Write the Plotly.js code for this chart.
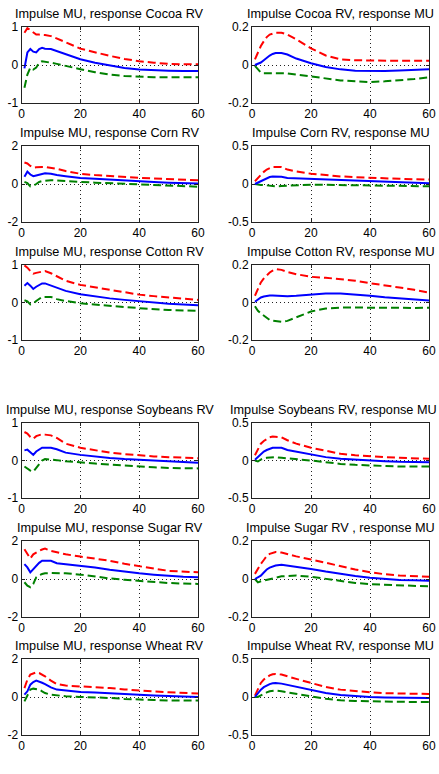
<!DOCTYPE html>
<html>
<head>
<meta charset="utf-8">
<script src="https://cdn.plot.ly/plotly-3.0.1.min.js"></script>
<style>html,body{margin:0;padding:0;background:#fff;}#chart{width:439px;height:774px;}</style>
</head>
<body>
<div id="chart"></div>
<script>
// ---- data ----
const horizon = [1,2,3,4,5,6,7,8,10,12,15,20,25,30,35,40,45,50,55,60];

const titles = [
  "Impulse MU, response Cocoa RV", "Impulse Cocoa RV, response MU",
  "Impulse MU, response Corn RV", "Impulse Corn RV, response MU",
  "Impulse MU, response Cotton RV", "Impulse Cotton RV, response MU",
  "Impulse MU, response Soybeans RV", "Impulse Soybeans RV, response MU",
  "Impulse MU, response Sugar RV", "Impulse Sugar RV , response MU",
  "Impulse MU, response Wheat RV", "Impulse Wheat RV, response MU"
];

const xTickVals = [0,20,40,60];
const xTickText = ["0","20","40","60"];

const yTickVals1 = [-1,0,1];   const yTickText1 = ["-1","0","1"];
const yTickVals02 = [-0.2,0,0.2]; const yTickText02 = ["-0.2","0","0.2"];
const yTickVals2 = [-2,0,2];   const yTickText2 = ["-2","0","2"];
const yTickVals05 = [-0.5,0,0.5]; const yTickText05 = ["-0.5","0","0.5"];

// Cocoa
const cocoaRV_upper = [0.85,0.97,0.92,0.85,0.8,0.8,0.8,0.79,0.76,0.7,0.6,0.43,0.33,0.24,0.16,0.1,0.06,0.03,0.02,0.02];
const cocoaRV_mid   = [-0.09,0.33,0.42,0.35,0.33,0.42,0.45,0.43,0.42,0.37,0.28,0.15,0.06,-0.02,-0.08,-0.12,-0.14,-0.15,-0.16,-0.16];
const cocoaRV_lower = [-0.6,-0.25,-0.07,-0.12,-0.07,0.06,0.1,0.09,0.06,0.03,-0.03,-0.11,-0.19,-0.25,-0.29,-0.31,-0.32,-0.32,-0.32,-0.32];
const cocoaMU_upper = [0.03,0.07,0.1,0.125,0.147,0.16,0.167,0.17,0.17,0.16,0.135,0.088,0.05,0.03,0.025,0.023,0.022,0.022,0.022,0.022];
const cocoaMU_mid   = [0,0.005,0.013,0.025,0.04,0.05,0.058,0.063,0.063,0.055,0.034,0.009,-0.011,-0.023,-0.03,-0.032,-0.032,-0.029,-0.027,-0.023];
const cocoaMU_lower = [-0.005,-0.023,-0.04,-0.044,-0.045,-0.045,-0.044,-0.043,-0.042,-0.044,-0.05,-0.06,-0.072,-0.081,-0.086,-0.09,-0.086,-0.081,-0.074,-0.065];
// Corn
const cornRV_upper = [1.13,1.08,0.95,0.86,0.88,0.9,0.9,0.9,0.86,0.8,0.68,0.54,0.47,0.41,0.36,0.32,0.29,0.27,0.23,0.2];
const cornRV_mid   = [0.38,0.65,0.5,0.41,0.45,0.5,0.53,0.56,0.54,0.47,0.41,0.32,0.27,0.22,0.17,0.13,0.1,0.07,0.04,0.02];
const cornRV_lower = [0.11,0.05,-0.13,-0.09,0,0.11,0.15,0.18,0.2,0.18,0.14,0.11,0.07,0.04,0,-0.04,-0.08,-0.11,-0.13,-0.14];
const cornMU_upper = [0.036,0.08,0.126,0.16,0.19,0.21,0.225,0.225,0.225,0.19,0.165,0.135,0.115,0.1,0.09,0.08,0.074,0.068,0.063,0.058];
const cornMU_mid   = [0,0.018,0.036,0.06,0.08,0.092,0.1,0.098,0.095,0.08,0.075,0.068,0.06,0.054,0.045,0.036,0.03,0.022,0.015,0.009];
const cornMU_lower = [0,-0.009,-0.012,-0.014,-0.02,-0.025,-0.028,-0.03,-0.027,-0.022,-0.015,-0.009,-0.011,-0.014,-0.018,-0.022,-0.026,-0.03,-0.03,-0.03];
// Cotton
const cottonRV_upper = [0.99,0.93,0.84,0.77,0.79,0.81,0.83,0.84,0.78,0.7,0.58,0.47,0.4,0.33,0.27,0.21,0.17,0.13,0.1,0.07];
const cottonRV_mid   = [0.45,0.52,0.45,0.36,0.42,0.47,0.51,0.51,0.45,0.39,0.31,0.22,0.16,0.11,0.07,0.03,0,-0.03,-0.05,-0.07];
const cottonRV_lower = [0.06,0.03,-0.05,-0.03,0.04,0.1,0.15,0.15,0.15,0.09,0.04,-0.02,-0.06,-0.09,-0.12,-0.15,-0.18,-0.2,-0.21,-0.22];
const cottonMU_upper = [0.036,0.075,0.107,0.128,0.146,0.16,0.17,0.178,0.174,0.163,0.151,0.137,0.132,0.125,0.116,0.103,0.093,0.08,0.068,0.053];
const cottonMU_mid   = [0.004,0.016,0.027,0.032,0.036,0.037,0.037,0.036,0.032,0.034,0.036,0.041,0.048,0.048,0.043,0.036,0.028,0.023,0.016,0.011];
const cottonMU_lower = [-0.02,-0.044,-0.058,-0.071,-0.083,-0.093,-0.097,-0.1,-0.103,-0.098,-0.08,-0.048,-0.032,-0.027,-0.027,-0.028,-0.029,-0.03,-0.029,-0.028];
// Soybeans
const soyRV_upper = [0.76,0.72,0.63,0.58,0.65,0.68,0.7,0.69,0.67,0.6,0.45,0.34,0.27,0.21,0.17,0.13,0.11,0.09,0.07,0.06];
const soyRV_mid   = [0.27,0.29,0.22,0.15,0.24,0.3,0.34,0.34,0.34,0.3,0.21,0.15,0.1,0.07,0.04,0.02,0,-0.03,-0.05,-0.06];
const soyRV_lower = [-0.16,-0.22,-0.27,-0.3,-0.2,-0.07,0,0.04,0.03,0.01,-0.02,-0.04,-0.08,-0.11,-0.14,-0.16,-0.18,-0.2,-0.21,-0.21];
const soyMU_upper = [0.07,0.15,0.225,0.26,0.29,0.31,0.32,0.32,0.31,0.27,0.225,0.17,0.126,0.09,0.07,0.054,0.045,0.036,0.03,0.023];
const soyMU_mid   = [0.01,0.05,0.09,0.12,0.14,0.16,0.17,0.17,0.17,0.14,0.12,0.08,0.045,0.023,0.01,0,-0.01,-0.018,-0.02,-0.023];
const soyMU_lower = [0,-0.013,0.013,0.03,0.036,0.04,0.045,0.045,0.036,0.03,0.023,0,-0.022,-0.045,-0.058,-0.068,-0.075,-0.081,-0.081,-0.081];
// Sugar
const sugarRV_upper = [1.57,1.3,1.08,1.3,1.4,1.48,1.55,1.6,1.48,1.4,1.3,1.18,1.08,0.96,0.8,0.66,0.55,0.43,0.38,0.35];
const sugarRV_mid   = [0.78,0.61,0.35,0.52,0.73,0.85,0.96,0.96,0.96,0.83,0.78,0.7,0.61,0.49,0.39,0.3,0.23,0.17,0.12,0.09];
const sugarRV_lower = [-0.17,-0.35,-0.43,-0.26,0.09,0.2,0.26,0.3,0.31,0.31,0.3,0.23,0.12,0.03,-0.04,-0.1,-0.16,-0.21,-0.24,-0.26];
const sugarMU_upper = [0.027,0.055,0.08,0.1,0.121,0.132,0.138,0.142,0.139,0.13,0.119,0.103,0.085,0.068,0.05,0.036,0.025,0.018,0.014,0.012];
const sugarMU_mid   = [0,0.008,0.018,0.034,0.05,0.06,0.066,0.071,0.075,0.071,0.066,0.053,0.039,0.027,0.016,0.007,0,-0.005,-0.007,-0.009];
const sugarMU_lower = [0,-0.018,-0.012,-0.008,-0.004,0,0.005,0.009,0.014,0.016,0.018,0.012,0,-0.012,-0.021,-0.027,-0.03,-0.032,-0.036,-0.039];
// Wheat
const wheatRV_upper = [0.47,0.91,1.18,1.26,1.3,1.26,1.18,1.09,0.86,0.68,0.6,0.56,0.51,0.47,0.4,0.33,0.29,0.25,0.22,0.19];
const wheatRV_mid   = [0.12,0.3,0.65,0.79,0.86,0.82,0.75,0.68,0.51,0.39,0.33,0.26,0.24,0.21,0.16,0.12,0.08,0.04,0.02,0];
const wheatRV_lower = [-0.23,0.12,0.39,0.44,0.42,0.39,0.3,0.21,0.12,0.08,0.04,0,-0.02,-0.05,-0.1,-0.14,-0.16,-0.18,-0.19,-0.19];
const wheatMU_upper = [0.018,0.11,0.185,0.23,0.264,0.285,0.3,0.304,0.295,0.27,0.238,0.185,0.132,0.097,0.075,0.062,0.05,0.044,0.042,0.04];
const wheatMU_mid   = [0,0.05,0.097,0.13,0.154,0.17,0.18,0.185,0.176,0.16,0.132,0.088,0.053,0.026,0.01,0,-0.005,-0.009,-0.011,-0.013];
const wheatMU_lower = [0,0,0.02,0.044,0.06,0.075,0.08,0.084,0.075,0.06,0.04,0.009,-0.022,-0.044,-0.052,-0.057,-0.062,-0.066,-0.066,-0.066];

// ---- panel assembly ----
const panels = [
  {u:cocoaRV_upper, m:cocoaRV_mid, l:cocoaRV_lower, tv:yTickVals1, tt:yTickText1},
  {u:cocoaMU_upper, m:cocoaMU_mid, l:cocoaMU_lower, tv:yTickVals02, tt:yTickText02},
  {u:cornRV_upper, m:cornRV_mid, l:cornRV_lower, tv:yTickVals2, tt:yTickText2},
  {u:cornMU_upper, m:cornMU_mid, l:cornMU_lower, tv:yTickVals05, tt:yTickText05},
  {u:cottonRV_upper, m:cottonRV_mid, l:cottonRV_lower, tv:yTickVals1, tt:yTickText1},
  {u:cottonMU_upper, m:cottonMU_mid, l:cottonMU_lower, tv:yTickVals02, tt:yTickText02},
  {u:soyRV_upper, m:soyRV_mid, l:soyRV_lower, tv:yTickVals1, tt:yTickText1},
  {u:soyMU_upper, m:soyMU_mid, l:soyMU_lower, tv:yTickVals05, tt:yTickText05},
  {u:sugarRV_upper, m:sugarRV_mid, l:sugarRV_lower, tv:yTickVals2, tt:yTickText2},
  {u:sugarMU_upper, m:sugarMU_mid, l:sugarMU_lower, tv:yTickVals02, tt:yTickText02},
  {u:wheatRV_upper, m:wheatRV_mid, l:wheatRV_lower, tv:yTickVals2, tt:yTickText2},
  {u:wheatMU_upper, m:wheatMU_mid, l:wheatMU_lower, tv:yTickVals05, tt:yTickText05}
];

const W = 439, H = 774;
const colX = [[21.5,198],[252,429]];
const rowY = [[27,103],[146,222],[265,340],[423,498],[541,617],[659,735]];
const FONT = "Liberation Sans, Arial, sans-serif";

const traces = [];
const layout = {
  width: W, height: H, autosize: false,
  margin: {l:0, r:0, t:0, b:0},
  paper_bgcolor: "#fff", plot_bgcolor: "#fff",
  showlegend: false, hovermode: false,
  font: {family: FONT, size: 12, color: "#000"},
  annotations: []
};

panels.forEach((p, i) => {
  const r = Math.floor(i / 2), c = i % 2;
  const k = i + 1;
  const xa = "x" + (k === 1 ? "" : k), ya = "y" + (k === 1 ? "" : k);
  const lim = p.tv[p.tv.length - 1];
  const common = {
    showline: true, mirror: "ticks", linecolor: "#222", linewidth: 1,
    ticks: "inside", ticklen: 3, tickcolor: "#222", tickwidth: 1,
    showgrid: true, gridcolor: "#222", gridwidth: 1, griddash: "1px,3px",
    zeroline: false, fixedrange: true,
    tickfont: {family: FONT, size: 12, color: "#000"}
  };
  layout["xaxis" + (k === 1 ? "" : k)] = Object.assign({}, common, {
    domain: [colX[c][0] / W, colX[c][1] / W], anchor: ya,
    range: [0, 60], tickmode: "array", tickvals: xTickVals, ticktext: xTickText
  });
  layout["yaxis" + (k === 1 ? "" : k)] = Object.assign({}, common, {
    domain: [1 - rowY[r][1] / H, 1 - rowY[r][0] / H], anchor: xa,
    range: [-lim, lim], tickmode: "array", tickvals: p.tv, ticktext: p.tt
  });
  traces.push({x: horizon, y: p.u, xaxis: xa, yaxis: ya, type: "scatter", mode: "lines",
    line: {color: "#ff0000", width: 2, dash: "8px,4px"}});
  traces.push({x: horizon, y: p.l, xaxis: xa, yaxis: ya, type: "scatter", mode: "lines",
    line: {color: "#008000", width: 2, dash: "8px,4px"}});
  traces.push({x: horizon, y: p.m, xaxis: xa, yaxis: ya, type: "scatter", mode: "lines",
    line: {color: "#0000ff", width: 2}});
  layout.annotations.push({
    text: titles[i], xref: "paper", yref: "paper",
    x: (colX[c][0] + colX[c][1]) / 2 / W, y: 1 - (rowY[r][0] - 5) / H,
    xanchor: "center", yanchor: "bottom", showarrow: false, borderpad: 0,
    font: {family: FONT, size: 12.7, color: "#000"}
  });
});

Plotly.newPlot("chart", traces, layout, {displayModeBar: false, staticPlot: true}).then(gd => {
  // keep any title that would run past the right edge fully inside the page
  const upd = {};
  const root = gd.getBoundingClientRect();
  gd.querySelectorAll(".annotation").forEach((el, idx) => {
    const b = el.getBoundingClientRect();
    if (b.right - root.left > W - 1) {
      upd["annotations[" + idx + "].xanchor"] = "right";
      upd["annotations[" + idx + "].x"] = (W - 1) / W;
    }
  });
  if (Object.keys(upd).length) Plotly.relayout(gd, upd);
});
</script>
</body>
</html>
